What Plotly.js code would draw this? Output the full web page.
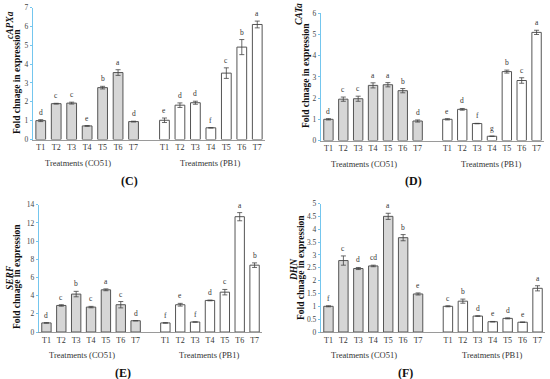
<!DOCTYPE html>
<html>
<head>
<meta charset="utf-8">
<script src="https://cdn.plot.ly/plotly-3.0.1.min.js"></script>
<style>html,body{margin:0;padding:0;background:#fff;}#chart{width:550px;height:379px;}</style>
</head>
<body>
<div id="chart"></div>
<script>
// ---- data ----
const treatments = ['T1','T2','T3','T4','T5','T6','T7'];
const groupLabels = ['Treatments (CO51)', 'Treatments (PB1)'];

// (C) cAPXa
const capxaCO51 = [1.00, 1.90, 1.93, 0.72, 2.75, 3.55, 0.95];
const capxaCO51Err = [0.05, 0.02, 0.05, 0.02, 0.07, 0.15, 0.02];
const capxaCO51Sig = ['d','c','c','e','b','a','d'];
const capxaPB1 = [1.02, 1.82, 1.95, 0.62, 3.52, 4.90, 6.10];
const capxaPB1Err = [0.12, 0.12, 0.08, 0.01, 0.28, 0.40, 0.18];
const capxaPB1Sig = ['e','d','d','f','c','b','a'];

// (D) CATa
const cataCO51 = [1.00, 1.95, 1.97, 2.60, 2.63, 2.35, 0.92];
const cataCO51Err = [0.03, 0.10, 0.12, 0.12, 0.10, 0.10, 0.05];
const cataCO51Sig = ['d','c','c','a','a','b','d'];
const cataPB1 = [1.00, 1.47, 0.80, 0.20, 3.25, 2.83, 5.10];
const cataPB1Err = [0.03, 0.04, 0.01, 0.01, 0.07, 0.13, 0.10];
const cataPB1Sig = ['e','d','f','g','b','c','a'];

// (E) SERF
const serfCO51 = [1.00, 2.92, 4.17, 2.74, 4.64, 3.00, 1.24];
const serfCO51Err = [0.03, 0.08, 0.30, 0.08, 0.10, 0.35, 0.02];
const serfCO51Sig = ['d','c','b','c','a','c','d'];
const serfPB1 = [1.00, 3.00, 1.10, 3.47, 4.38, 12.68, 7.35];
const serfPB1Err = [0.03, 0.15, 0.02, 0.04, 0.30, 0.45, 0.25];
const serfPB1Sig = ['f','e','f','d','c','a','b'];

// (F) DHN
const dhnCO51 = [1.00, 2.78, 2.47, 2.57, 4.50, 3.67, 1.48];
const dhnCO51Err = [0.02, 0.18, 0.04, 0.03, 0.12, 0.12, 0.04];
const dhnCO51Sig = ['f','c','d','cd','a','b','e'];
const dhnPB1 = [1.00, 1.20, 0.62, 0.40, 0.53, 0.38, 1.70];
const dhnPB1Err = [0.02, 0.08, 0.01, 0.01, 0.02, 0.01, 0.10];
const dhnPB1Sig = ['c','b','d','e','d','e','a'];

// ---- layout helpers ----
const W = 550, H = 379;
const SERIF = 'Liberation Serif, Times New Roman, serif';
const AXBLUE = '#74c6ee';
const xCO = treatments.map((t, i) => i);
const xPB = treatments.map((t, i) => i + 8);

const panels = [
  {id:'', gene:'cAPXa', label:'(C)', co:capxaCO51, coE:capxaCO51Err, coS:capxaCO51Sig, pb:capxaPB1, pbE:capxaPB1Err, pbS:capxaPB1Sig,
   px:[33,265], py:[7.5,139.5], yr:[0,7], dt:1, geneXY:[10,25], foldXY:[17,82], grpY:163, lblXY:[129,181]},
  {id:'2', gene:'CATa', label:'(D)', co:cataCO51, coE:cataCO51Err, coS:cataCO51Sig, pb:cataPB1, pbE:cataPB1Err, pbS:cataPB1Sig,
   px:[321,544], py:[13.3,140.5], yr:[0,6], dt:1, geneXY:[299,14], foldXY:[306,76], grpY:164, lblXY:[413,181]},
  {id:'3', gene:'SERF', label:'(E)', co:serfCO51, coE:serfCO51Err, coS:serfCO51Sig, pb:serfPB1, pbE:serfPB1Err, pbS:serfPB1Sig,
   px:[39,262], py:[204.7,332], yr:[0,14], dt:2, geneXY:[10,278], foldXY:[17,277], grpY:355, lblXY:[123,373]},
  {id:'4', gene:'DHN', label:'(F)', co:dhnCO51, coE:dhnCO51Err, coS:dhnCO51Sig, pb:dhnPB1, pbE:dhnPB1Err, pbS:dhnPB1Sig,
   px:[321,545], py:[203.5,332], yr:[0,5], dt:0.5, geneXY:[294,270], foldXY:[301,268], grpY:355, lblXY:[405,373]}
];

const traces = [];
const annotations = [];
const layout = {
  width: W, height: H,
  margin: {l:0, r:0, t:0, b:0},
  paper_bgcolor: '#fff', plot_bgcolor: '#fff',
  showlegend: false,
  font: {family: SERIF, color: '#333'}
};

panels.forEach(p => {
  const xa = 'x' + p.id, ya = 'y' + p.id;
  const xKey = 'xaxis' + p.id, yKey = 'yaxis' + p.id;
  const barCommon = {type:'bar', xaxis:xa, yaxis:ya, width:0.63, hoverinfo:'skip'};
  traces.push(Object.assign({}, barCommon, {
    x: xCO, y: p.co,
    marker: {color:'#d6d6d6', line:{color:'#555', width:1}},
    error_y: {type:'data', array:p.coE, visible:true, color:'#444', thickness:0.8, width:2.5}
  }));
  traces.push(Object.assign({}, barCommon, {
    x: xPB, y: p.pb,
    marker: {color:'#ffffff', line:{color:'#555', width:1}},
    error_y: {type:'data', array:p.pbE, visible:true, color:'#444', thickness:0.8, width:2.5}
  }));
  layout[xKey] = {
    domain: [p.px[0]/W, p.px[1]/W], anchor: ya,
    range: [-0.5, 14.5], fixedrange: true,
    showline: true, linecolor: '#9a9a9a', linewidth: 1,
    showgrid: false, zeroline: false, ticks: '',
    tickmode: 'array', tickvals: xCO.concat(xPB), ticktext: treatments.concat(treatments),
    tickfont: {family: SERIF, size: 8, color: '#333'}
  };
  layout[yKey] = {
    domain: [1 - p.py[1]/H, 1 - p.py[0]/H], anchor: xa,
    range: p.yr, dtick: p.dt, tick0: 0,
    showline: true, linecolor: AXBLUE, linewidth: 1.2,
    ticks: 'outside', ticklen: 2, tickcolor: AXBLUE,
    showgrid: false, zeroline: false,
    tickfont: {family: SERIF, size: 7.5, color: '#444'}
  };
  // significance letters
  const addSig = (xs, ys, es, ss) => xs.forEach((x, i) => annotations.push({
    xref: xa, yref: ya, x: x, y: ys[i] + es[i], text: ss[i], showarrow: false,
    yanchor: 'bottom', yshift: 1, font: {family: SERIF, size: 7.5, color: '#333'}
  }));
  addSig(xCO, p.co, p.coE, p.coS);
  addSig(xPB, p.pb, p.pbE, p.pbS);
  // group labels
  annotations.push({xref: xa, yref:'paper', x: 2.4, y: 1 - p.grpY/H, text: groupLabels[0], showarrow:false,
    yanchor:'middle', font:{family:SERIF, size:8.5, color:'#333'}});
  annotations.push({xref: xa, yref:'paper', x: 11, y: 1 - p.grpY/H, text: groupLabels[1], showarrow:false,
    yanchor:'middle', font:{family:SERIF, size:8.5, color:'#333'}});
  // y titles
  annotations.push({xref:'paper', yref:'paper', x: p.geneXY[0]/W, y: 1 - p.geneXY[1]/H,
    text: '<b><i>' + p.gene + '</i></b>', textangle: -90, showarrow:false,
    xanchor:'center', yanchor:'middle', font:{family:SERIF, size:9.5, color:'#111'}});
  annotations.push({xref:'paper', yref:'paper', x: p.foldXY[0]/W, y: 1 - p.foldXY[1]/H,
    text: '<b>Fold chnage in expression</b>', textangle: -90, showarrow:false,
    xanchor:'center', yanchor:'middle', font:{family:SERIF, size:9.5, color:'#111'}});
  // panel label
  annotations.push({xref:'paper', yref:'paper', x: p.lblXY[0]/W, y: 1 - p.lblXY[1]/H,
    text: '<b>' + p.label + '</b>', showarrow:false,
    xanchor:'center', yanchor:'middle', font:{family:SERIF, size:12, color:'#111'}});
});

layout.annotations = annotations;
Plotly.newPlot('chart', traces, layout, {displayModeBar:false, staticPlot:true});
</script>
</body>
</html>
